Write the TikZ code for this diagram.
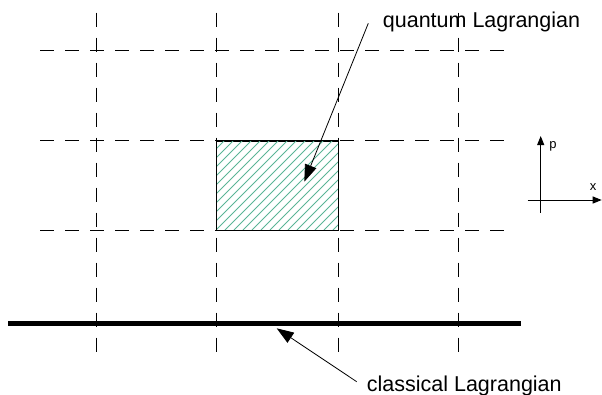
\documentclass[tikz,border=0pt]{standalone}
\usepackage{fontspec}
\setmainfont{Liberation Sans}
\usetikzlibrary{arrows.meta}
\definecolor{hatch}{RGB}{90,180,150}
\tikzset{
  grid/.style={line width=0.8pt, dash pattern=on 14pt off 11pt},
  label/.style={inner sep=0pt, font=\fontsize{21.5}{24}\selectfont},
  axlabel/.style={inner sep=0pt, font=\fontsize{13}{15}\selectfont},
  pointer/.style={line width=0.8pt, -{Triangle[length=17pt,width=12pt]}},
  axis/.style={line width=1pt, -{Triangle[length=9pt,width=7pt]}}
}
\begin{document}
\begin{tikzpicture}[x=1pt,y=-1pt]
\useasboundingbox (0,0) rectangle (602,394);
% grid
\foreach \x in {96,216,338,458} \draw[grid] (\x,12.7) -- (\x,358);
\foreach \y in {50,140.7,230} \draw[grid] (40,\y) -- (513,\y);
% hatched cell
\node[draw, line width=1pt, minimum width=122pt, minimum height=89.5pt, inner sep=0pt, anchor=north west] (cell) at (216,140.5) {};
\begin{scope}
\clip (216,140.5) rectangle (338.3,230);
\foreach \i in {-90,-81,...,340} \draw[hatch, line width=0.9pt] (\i,230) -- ({\i+90},140);
\end{scope}
\draw[line width=1pt] (216,140.5) rectangle (338.3,230);
% classical line
\coordinate (cl0) at (8,323.3);
\coordinate (cl1) at (521,323.3);
\draw[line width=5.5pt] (cl0) -- (cl1);
% labels
\node[label, anchor=base west] (ql) at (382.7,27.7) {quantum Lagrangian};
\node[label, anchor=base west] (cll) at (366.7,391) {classical Lagrangian};
\coordinate (qs) at (368.3,23.3);
\coordinate (qt) at (304.3,181.7);
\draw[pointer] (qs) -- (qt);
\coordinate (cs) at (356.7,381.7);
\coordinate (ct) at (276.7,328.3);
\draw[pointer] (cs) -- (ct);
% axes
\coordinate (vb) at (540.7,212.7);
\coordinate (vt) at (540.7,136);
\coordinate (hl) at (527.7,200);
\coordinate (hr) at (601.7,200);
\draw[axis] (vb) -- (vt);
\draw[axis] (hl) -- (hr);
\node[axlabel] (p) at (553,146) {p};
\node[axlabel] (xl) at (593,187) {x};
\end{tikzpicture}
\end{document}
